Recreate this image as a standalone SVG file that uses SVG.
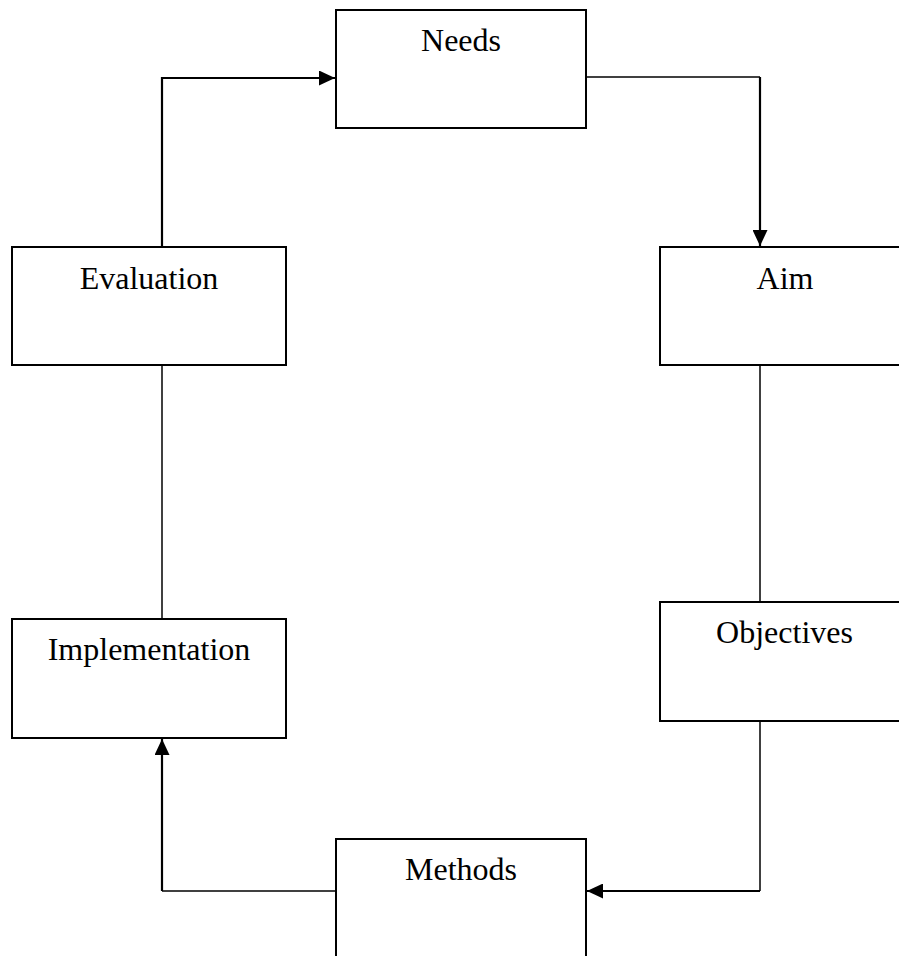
<svg xmlns="http://www.w3.org/2000/svg" width="899" height="956" viewBox="0 0 899 956">
  <defs>
    <style>
      .box { fill: #ffffff; stroke: #000000; stroke-width: 2; }
      .lbl { font-family: "Liberation Serif", "Times New Roman", serif; font-size: 32px; fill: #000000; text-anchor: middle; }
      .thin { fill: none; stroke: #000000; stroke-width: 1.5; }
      .thick { fill: none; stroke: #000000; stroke-width: 2.2; }
    </style>
    <marker id="arrow" markerUnits="userSpaceOnUse" markerWidth="16" markerHeight="15" refX="16" refY="7.5" orient="auto">
      <path d="M0,0 L16,7.5 L0,15 Z" fill="#000000"/>
    </marker>
  </defs>
  <rect width="899" height="956" fill="#ffffff"/>

  <g id="connectors">
    <path class="thick" d="M162,247 V78 H335" marker-end="url(#arrow)"/>
    <path class="thin" d="M586,77 H760"/>
    <path class="thick" d="M760,77 V246" marker-end="url(#arrow)"/>
    <path class="thin" d="M760,365 V602"/>
    <path class="thin" d="M760,721 V891"/>
    <path class="thick" d="M760,891 H587" marker-end="url(#arrow)"/>
    <path class="thin" d="M336,891 H162"/>
    <path class="thick" d="M162,891 V739" marker-end="url(#arrow)"/>
    <path class="thin" d="M162,365 V619"/>
  </g>

  <g id="needs">
    <rect class="box" x="336" y="10" width="250" height="118"/>
    <text class="lbl" x="461" y="50.5">Needs</text>
  </g>
  <g id="aim">
    <rect class="box" x="660" y="247" width="250" height="118"/>
    <text class="lbl" x="785" y="288.5">Aim</text>
  </g>
  <g id="objectives">
    <rect class="box" x="660" y="602" width="250" height="119"/>
    <text class="lbl" x="784.5" y="642.5">Objectives</text>
  </g>
  <g id="methods">
    <rect class="box" x="336" y="839" width="250" height="130"/>
    <text class="lbl" x="461" y="880">Methods</text>
  </g>
  <g id="implementation">
    <rect class="box" x="12" y="619" width="274" height="119"/>
    <text class="lbl" x="149" y="660">Implementation</text>
  </g>
  <g id="evaluation">
    <rect class="box" x="12" y="247" width="274" height="118"/>
    <text class="lbl" x="149" y="288.5">Evaluation</text>
  </g>
</svg>
